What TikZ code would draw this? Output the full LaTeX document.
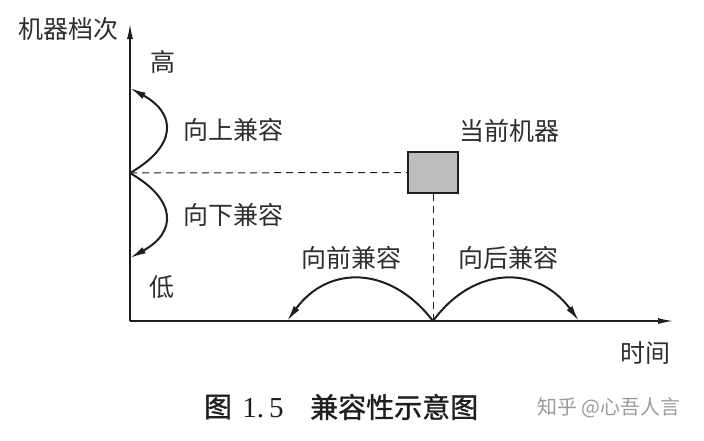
\documentclass[tikz,border=0pt]{standalone}
\usepackage{fontspec}
\newfontfamily\cjk{Noto Sans CJK SC}
\newfontfamily\cjkbold[FakeBold=1.2]{Noto Sans CJK SC}
\newfontfamily\capnumfont{Liberation Serif}
\usetikzlibrary{arrows.meta}
\definecolor{cmpInk}{HTML}{1E1E1E}
\definecolor{cmpText}{HTML}{2E2E2E}
\definecolor{cmpBox}{HTML}{BDBDBD}
\definecolor{cmpMark}{HTML}{9A9A9A}
\tikzset{
  cmp axis/.style={draw=cmpInk, line width=1.3pt, -{Latex[length=15pt,width=6pt]}},
  cmp arc/.style={draw=cmpInk, line width=2pt, -{Latex[length=16pt,width=7pt]}},
  cmp guide/.style={draw=cmpInk, line width=1pt, dash pattern=on 7pt off 5pt},
  cmp box/.style={draw=cmpInk, fill=cmpBox, line width=1.5pt, minimum width=50pt, minimum height=41pt, inner sep=0pt},
  cmp label/.style={font=\cjk\fontsize{25}{25}\selectfont, text=cmpText, inner sep=0pt},
  cmp caption/.style={font=\cjkbold\fontsize{28}{28}\selectfont, text=cmpInk, inner sep=0pt},
  cmp mark/.style={font=\cjk\fontsize{20}{20}\selectfont, text=cmpMark, inner sep=0pt},
}

\begin{document}
\begin{tikzpicture}[x=1pt,y=-1pt]
  \useasboundingbox (0,0) rectangle (704,440);
  % axes
  \coordinate (O) at (130,321);
  \coordinate (ytop) at (130,24);
  \coordinate (xend) at (673,321);
  \coordinate (mid) at (130,173);
  \draw[cmp axis] (O) -- (ytop);
  \draw[cmp axis] (O) -- (xend);
  \node[cmp label, anchor=east] (level) at (119,29) {机器档次};
  \node[cmp label] (time) at (645,353) {时间};
  \node[cmp label] (high) at (163,62) {高};
  \node[cmp label] (low) at (162,287) {低};
  % current machine
  \node[cmp box] (cur) at (433,172.5) {};
  \node[cmp label] (curtxt) at (509,131) {当前机器};
  \draw[cmp guide] (mid) -- (cur.west);
  \draw[cmp guide] (cur.south) -- (cur.south |- O);
  \coordinate (now) at (cur.south |- O);
  % up and down
  \coordinate (upend) at (130,88);
  \coordinate (downend) at (130,258);
  \draw[cmp arc] (mid) .. controls (177,146) and (177,114) .. (upend);
  \draw[cmp arc] (mid) .. controls (177,200) and (177,232) .. (downend);
  \node[cmp label] (up) at (233,130) {向上兼容};
  \node[cmp label] (down) at (233,215) {向下兼容};
  % forward and backward
  \coordinate (fwdend) at (287,321);
  \coordinate (bwdend) at (579,321);
  \draw[cmp arc] (now) .. controls (390,265) and (328,265) .. (fwdend);
  \draw[cmp arc] (now) .. controls (474,265) and (538,265) .. (bwdend);
  \node[cmp label] (fwd) at (351,258) {向前兼容};
  \node[cmp label] (bwd) at (508,258) {向后兼容};
  % caption
  \node[cmp caption] (capfig) at (218,407) {图};
  \node[inner sep=0pt, font=\capnumfont\fontsize{29}{29}\selectfont, text=cmpInk] (capnum) at (263,408) {1.\,5};
  \node[cmp caption, anchor=west] (captxt) at (310,407) {兼容性示意图};
  \node[cmp mark, anchor=west] (mark) at (537,408) {知乎 @心吾人言};
\end{tikzpicture}
\end{document}
